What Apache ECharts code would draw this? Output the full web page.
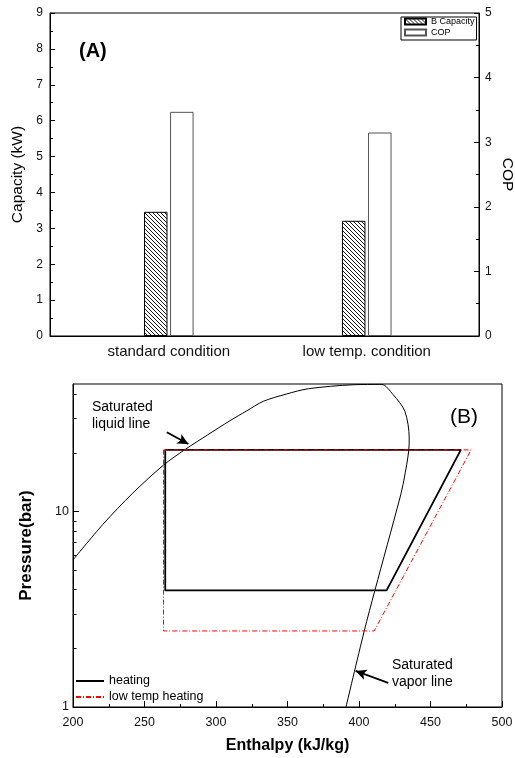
<!DOCTYPE html>
<html><head><meta charset="utf-8">
<script src="https://cdn.jsdelivr.net/npm/echarts@6/dist/echarts.min.js"></script>
<style>html,body{margin:0;padding:0;background:#fff}#c{width:515px;height:758px}</style>
</head><body><div id="c"></div>
<script>
// ---- Chart (A) data ----
const categories = ['standard condition', 'low temp. condition'];
const capacityKW = [3.46, 3.21];
const copValues = [3.47, 3.15];
const capacityAxis = { min: 0, max: 9, interval: 1 };
const copAxis = { min: 0, max: 5, interval: 1 };

// ---- Chart (B) data (enthalpy kJ/kg, pressure bar) ----
const heatingH = [264.5, 471.2, 419.3, 264.5, 264.5];
const heatingP = [20.7, 20.7, 3.95, 3.95, 20.7];
const lowTempH = [263.3, 478.4, 410.6, 263.3, 263.3];
const lowTempP = [20.7, 20.7, 2.45, 2.45, 20.7];
const domeH = [200, 220.9, 241.9, 263.3, 278.4, 294.1, 309.8, 321.5, 333.1, 349.4, 364.5, 395.9, 415.8, 423.9, 432.1, 435.1, 434.85, 431.4, 428.6, 411.1, 403.6, 390.9];
const domeP = [5.66, 8.60, 12.46, 17.3, 20.8, 24.7, 29.2, 32.8, 36.7, 40.0, 42.55, 44.6, 44.8, 39.65, 32.6, 23.8, 20.75, 14.5, 11.75, 3.95, 2.44, 1.0];
const enthalpyAxis = { min: 200, max: 500, interval: 50 };
const pressureAxis = { min: 1, max: 45 };
const pressureMinorTicks = [2, 3, 4, 5, 6, 7, 8, 9, 20, 30, 40];
const liquidArrow = [[265.6, 25.5], [280.7, 22.2]];
const vaporArrow = [[420.4, 1.33], [397.6, 1.53]];

// hatch pattern
const hatch = document.createElement('canvas');
hatch.width = 4; hatch.height = 4;
(function () {
  const ctx = hatch.getContext('2d');
  ctx.fillStyle = '#fff'; ctx.fillRect(0, 0, 4, 4);
  ctx.strokeStyle = '#000'; ctx.lineWidth = 0.9;
  ctx.beginPath();
  ctx.moveTo(-1, -1); ctx.lineTo(5, 5);
  ctx.moveTo(-1, 3); ctx.lineTo(1, 5);
  ctx.moveTo(3, -1); ctx.lineTo(5, 1);
  ctx.stroke();
})();

const FONT = 'Liberation Sans, Arial, sans-serif';
const black = { color: '#000' };

const chart = echarts.init(document.getElementById('c'), null, { renderer: 'canvas' });
chart.setOption({
  animation: false,
  textStyle: { fontFamily: FONT },
  grid: [
    { left: 50, top: 13, width: 429, height: 323, show: true, borderColor: '#000', borderWidth: 1, backgroundColor: 'transparent', outerBoundsMode: 'none', containLabel: false },
    { left: 73, top: 384, width: 429, height: 323, show: true, borderColor: '#000', borderWidth: 1, backgroundColor: 'transparent', outerBoundsMode: 'none', containLabel: false }
  ],
  legend: [
    { data: ['B Capacity', 'COP'], left: 401, top: 17, orient: 'vertical', icon: 'rect', itemWidth: 21, itemHeight: 6, itemGap: 2,
      padding: [0, 2, 3, 3], borderColor: '#000', borderWidth: 1, backgroundColor: '#fff', selectedMode: false,
      textStyle: { fontSize: 9, color: '#000', lineHeight: 9, fontFamily: FONT } },
    { data: ['heating', 'low temp heating'], left: 75, top: 674, orient: 'vertical', itemWidth: 28, itemHeight: 2, itemGap: 2,
      padding: 0, selectedMode: false, itemStyle: { opacity: 0 },
      textStyle: { fontSize: 12.5, color: '#000', lineHeight: 14, fontFamily: FONT } }
  ],
  xAxis: [
    { gridIndex: 0, type: 'value', min: 0.4, max: 2.567, splitLine: { show: false },
      axisLine: { onZero: false, lineStyle: black }, axisTick: { show: false },
      axisLabel: { customValues: [1, 2], formatter: v => categories[Math.round(v) - 1] || '', fontSize: 15, color: '#111', margin: 8 } },
    { gridIndex: 1, type: 'value', min: enthalpyAxis.min, max: enthalpyAxis.max, interval: enthalpyAxis.interval, splitLine: { show: false },
      axisLine: { onZero: false, lineStyle: black }, axisTick: { inside: true, length: 6, lineStyle: black },
      minorTick: { show: true, splitNumber: 2, length: 3, lineStyle: black },
      axisLabel: { fontSize: 12.5, color: '#111', margin: 9 },
      name: 'Enthalpy (kJ/kg)', nameLocation: 'middle', nameGap: 31,
      nameTextStyle: { fontSize: 16, fontWeight: 'bold', color: '#000', fontFamily: FONT } }
  ],
  yAxis: [
    { gridIndex: 0, type: 'value', position: 'left', min: capacityAxis.min, max: capacityAxis.max, interval: capacityAxis.interval,
      splitLine: { show: false }, axisLine: { show: true, lineStyle: black },
      axisTick: { show: true, inside: true, length: 5, lineStyle: black },
      minorTick: { show: true, splitNumber: 2, length: 3, lineStyle: black },
      axisLabel: { fontSize: 12, color: '#111', margin: 7 },
      name: 'Capacity (kW)', nameLocation: 'middle', nameRotate: 90, nameGap: 24,
      nameTextStyle: { fontSize: 15.5, color: '#000', fontFamily: FONT } },
    { gridIndex: 0, type: 'value', position: 'right', min: copAxis.min, max: copAxis.max, interval: copAxis.interval,
      splitLine: { show: false }, axisLine: { show: true, lineStyle: black },
      axisTick: { show: true, inside: true, length: 5, lineStyle: black },
      minorTick: { show: true, splitNumber: 2, length: 3, lineStyle: black },
      axisLabel: { fontSize: 12, color: '#111', margin: 6 },
      name: 'COP', nameLocation: 'middle', nameRotate: -90, nameGap: 20, nameMoveOverlap: false,
      nameTextStyle: { fontSize: 15.5, color: '#000', fontFamily: FONT } },
    { gridIndex: 1, type: 'log', logBase: 10, min: pressureAxis.min, max: pressureAxis.max,
      splitLine: { show: false }, axisLine: { show: true, onZero: false, lineStyle: black },
      axisTick: { show: true, inside: true, length: 6, lineStyle: black },
      axisLabel: { fontSize: 12.5, color: '#111', margin: 4, showMaxLabel: false },
      name: 'Pressure(bar)', nameLocation: 'middle', nameRotate: 90, nameGap: 38,
      nameTextStyle: { fontSize: 17, fontWeight: 'bold', color: '#000', fontFamily: FONT } }
  ],
  series: [
    { name: 'B Capacity', type: 'bar', xAxisIndex: 0, yAxisIndex: 0,
      data: categories.map((c, i) => [i + 1, capacityKW[i]]),
      barWidth: 23.5, barGap: '11%',
      itemStyle: { color: { image: hatch, repeat: 'repeat' }, borderColor: '#000', borderWidth: 1 } },
    { name: 'COP', type: 'bar', xAxisIndex: 0, yAxisIndex: 1,
      data: categories.map((c, i) => [i + 1, copValues[i]]),
      barWidth: 23.5, barGap: '11%',
      itemStyle: { color: '#fff', borderColor: '#555', borderWidth: 1 } },
    { name: 'dome', type: 'line', xAxisIndex: 1, yAxisIndex: 2, symbol: 'none', smooth: 0.3,
      data: domeH.map((h, i) => [h, domeP[i]]),
      lineStyle: { color: '#000', width: 1 },
      markLine: { silent: true, animation: false, symbol: ['none', 'arrow'], symbolSize: [8, 11],
        lineStyle: { color: '#000', width: 1.8, type: 'solid' }, label: { show: false },
        data: [
          [{ coord: liquidArrow[0] }, { coord: liquidArrow[1] }],
          [{ coord: vaporArrow[0] }, { coord: vaporArrow[1] }]
        ] } },
    { name: 'heating', type: 'line', xAxisIndex: 1, yAxisIndex: 2, symbol: 'none',
      data: heatingH.map((h, i) => [h, heatingP[i]]),
      lineStyle: { color: '#000', width: 1.8 }, itemStyle: { color: '#000' } },
    { name: 'low temp heating', type: 'line', xAxisIndex: 1, yAxisIndex: 2, symbol: 'none',
      data: lowTempH.map((h, i) => [h, lowTempP[i]]),
      lineStyle: { color: '#ff0000', width: 1, type: [5, 2, 1, 2] }, itemStyle: { color: '#ff0000' } },
    { name: 'minorTicks', type: 'custom', xAxisIndex: 1, yAxisIndex: 2, silent: true,
      data: pressureMinorTicks.map(v => [enthalpyAxis.min, v]),
      renderItem: function (params, api) {
        const p = api.coord([api.value(0), api.value(1)]);
        const y = Math.round(p[1]) + 0.5;
        return { type: 'line', shape: { x1: p[0], y1: y, x2: p[0] + 3.5, y2: y }, style: { stroke: '#000', lineWidth: 1 } };
      } }
  ],
  graphic: [
    { type: 'text', left: 79, top: 41, style: { text: '(A)', font: 'bold 20px ' + FONT, fill: '#000' } },
    { type: 'text', left: 450, top: 407, style: { text: '(B)', font: '21px ' + FONT, fill: '#000' } },
    { type: 'text', left: 92, top: 399, style: { text: 'Saturated\nliquid line', font: '14px ' + FONT, fill: '#000', lineHeight: 17 } },
    { type: 'text', left: 392, top: 657, style: { text: 'Saturated\nvapor line', font: '14px ' + FONT, fill: '#000', lineHeight: 17 } }
  ]
});
</script>
</body></html>
